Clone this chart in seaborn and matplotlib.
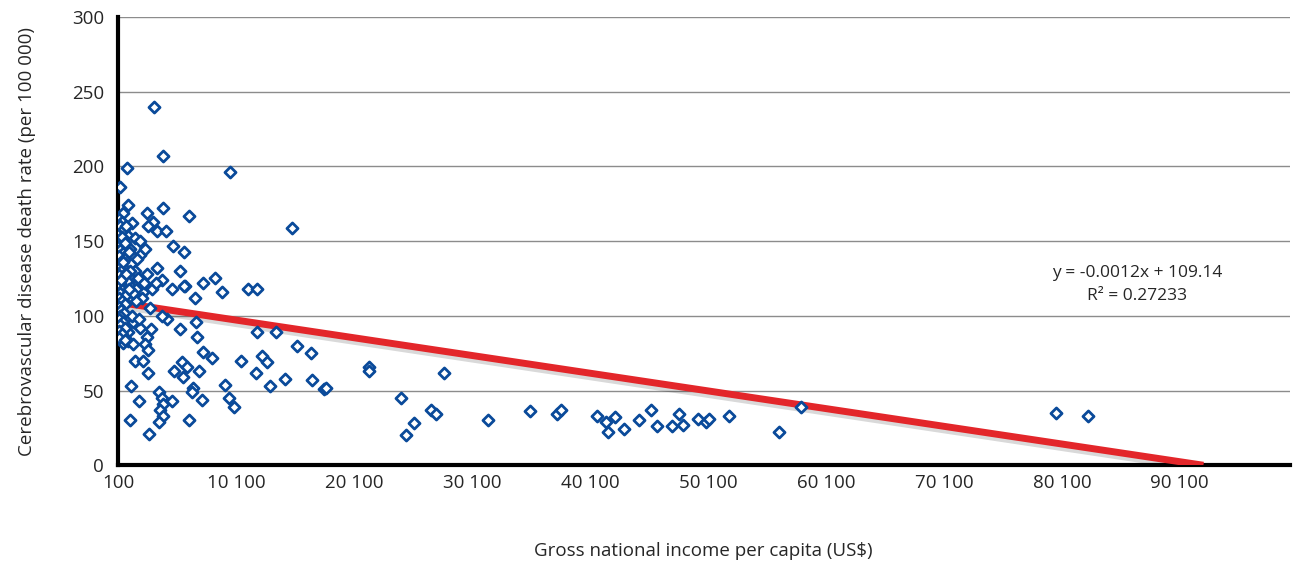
import numpy as np
import pandas as pd
import matplotlib.pyplot as plt
import seaborn as sns
from matplotlib.ticker import FixedLocator

# Werte (GNI pro Kopf, Sterberate)
gni = [3150, 3900, 900, 9600, 300, 3900, 6100, 2550, 950, 500,
       14850, 3050, 1300, 2650, 3400, 4150, 150, 850, 1550, 1950,
       4750, 5700, 1950, 3400, 5350, 2550, 1350, 3850, 4700, 6650,
       7300, 2200, 1100, 5800, 500, 4250, 3850, 5350, 6700, 6800,
       1350, 950, 2550, 1950, 2900, 950, 500, 1350, 2400, 2650,
       1550, 2200, 2650, 4850, 5500, 5950, 5600, 6450, 6950, 1200,
       1900, 3600, 3850, 3900, 4700, 6350, 7200, 3650, 3900, 3600,
       1100, 2750, 6100, 8300, 8900, 11100, 11900, 11900, 13500, 7300,
       8050, 10500, 12300, 12700, 11800, 14250, 12950, 9150, 9500, 9950,
       15250, 16450, 16550, 17550, 17750, 21350, 21400, 27700, 24100, 25200,
       24500, 26650, 27050, 31450, 35000, 37300, 37650, 40700, 41450, 42200,
       41650, 43000, 44250, 45250, 45800, 47050, 47650, 48000, 49250, 49950,
       50200, 51900, 56100, 58000, 79600, 82300,
       200, 400, 300, 600, 150, 350, 700, 250, 500, 150,
       800, 400, 250, 600, 150, 350, 700, 200, 500, 900,
       300, 150, 600, 400, 250, 800, 150, 450, 700, 200,
       350, 600, 250, 150, 500, 300, 700, 200, 400, 150,
       1100, 1300, 1200, 1700, 1500, 1800, 2300, 2100, 1600, 2800,
       1250, 1900, 3000, 3300, 2400, 1650, 700, 1400, 1100, 5700,
       450, 650, 1000, 800, 550, 350, 1000, 750]
rate = [240, 207, 199, 196, 186, 172, 167, 169, 174, 169,
        159, 163, 162, 160, 157, 157, 156, 154, 152, 150,
        147, 143, 141, 132, 130, 128, 126, 124, 118, 112,
        122, 116, 120, 120, 110, 98, 100, 91, 96, 86,
        96, 89, 86, 92, 91, 83, 82, 81, 81, 77,
        70, 70, 62, 63, 69, 66, 59, 52, 63, 53,
        43, 49, 45, 41, 43, 49, 44, 37, 33, 29,
        30, 21, 30, 125, 116, 118, 118, 89, 89, 76,
        72, 70, 73, 69, 62, 58, 53, 54, 45, 39,
        80, 75, 57, 51, 52, 66, 63, 62, 45, 28,
        20, 37, 34, 30, 36, 34, 37, 33, 29, 32,
        22, 24, 30, 37, 26, 26, 34, 27, 31, 29,
        31, 33, 22, 39, 35, 33,
        165, 163, 160, 158, 150, 148, 146, 144, 142, 140,
        139, 137, 135, 134, 132, 130, 128, 127, 125, 123,
        122, 120, 118, 117, 115, 114, 112, 110, 108, 106,
        104, 102, 100, 98, 96, 94, 92, 90, 88, 85,
        145, 140, 135, 138, 130, 125, 122, 112, 110, 105,
        100, 98, 118, 122, 145, 118, 84, 115, 130, 120,
        153, 149, 143, 128, 136, 124, 118, 160]

# Trendlinie (Steigung ungerundet, Beschriftung gerundet)
slope = -0.001185
intercept = 109.14
label = 'y = -0.0012x + 109.14\nR\u00b2 = 0.27233'

df = pd.DataFrame({'gni': gni, 'rate': rate})

sns.set_style("white")
plt.rcParams['font.family'] = ['Open Sans', 'DejaVu Sans']

fig = plt.figure(figsize=(12.93, 5.66), dpi=100)
ax = fig.add_axes([0.0913, 0.178, 0.906, 0.792])

ax.set_xlim(100, 99400)
ax.set_ylim(0, 300)
ax.yaxis.set_major_locator(FixedLocator([0, 50, 100, 150, 200, 250, 300]))
ax.xaxis.set_major_locator(FixedLocator([100 + 10000 * i for i in range(10)]))
ax.set_xticklabels(['100'] + ['%d 100' % (10 * i) for i in range(1, 10)])

ax.grid(axis='y', color='#8c8c8c', linewidth=1.0)
ax.set_axisbelow(True)

# Trendlinie mit Schatten
x_end = -intercept / slope
xs = np.array([100, x_end])
ys = slope * xs + intercept
ax.plot(xs + 500, ys - 2.5, color='#000000', alpha=0.15, linewidth=6, solid_capstyle='butt', zorder=2)
ax.plot(xs, ys, color='#e3262a', linewidth=5, solid_capstyle='butt', zorder=3)

sns.scatterplot(data=df, x='gni', y='rate', marker='D', s=32, facecolor='white',
                edgecolor='#0a4a9a', linewidth=2.0, ax=ax, zorder=4)

ax.text(86500, 121, label, ha='center', va='center', fontsize=12.5, linespacing=1.6)

for s in ['top', 'right']:
    ax.spines[s].set_visible(False)
ax.spines['left'].set_linewidth(3)
ax.spines['bottom'].set_linewidth(3)
ax.spines['left'].set_color('black')
ax.spines['bottom'].set_color('black')
ax.tick_params(axis='both', length=0, labelsize=13.5)
ax.tick_params(axis='x', pad=6)
ax.tick_params(axis='y', pad=10)

ax.set_xlabel('Gross national income per capita (US$)', fontsize=13.5, labelpad=36)
ax.set_ylabel('Cerebrovascular disease death rate (per 100 000)', fontsize=13.5, labelpad=26)

plt.savefig('out.png', dpi=100)
plt.close()
